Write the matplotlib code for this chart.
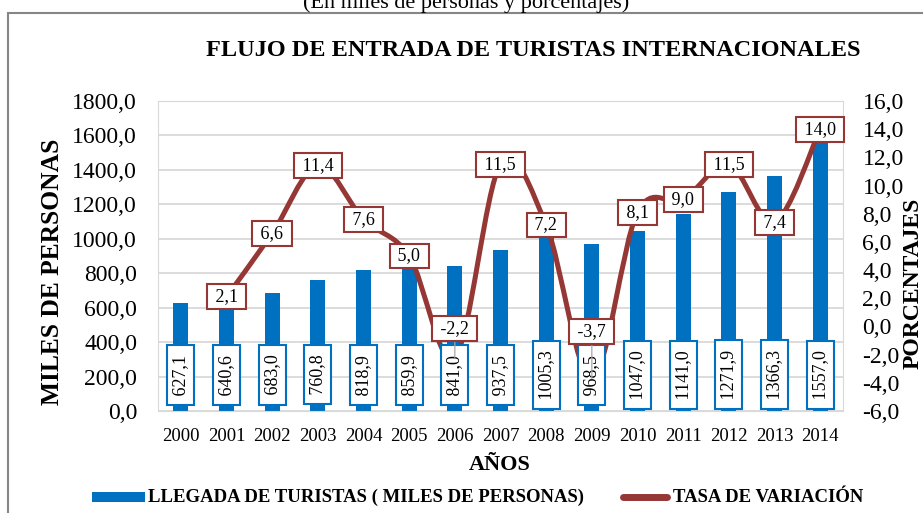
import matplotlib
matplotlib.use("Agg")
import matplotlib.pyplot as plt
from matplotlib.patches import Rectangle, PathPatch
from matplotlib.lines import Line2D
from matplotlib.path import Path

plt.rcParams['font.family'] = ['Liberation Serif', 'DejaVu Serif']

years = ['2000', '2001', '2002', '2003', '2004', '2005', '2006', '2007',
         '2008', '2009', '2010', '2011', '2012', '2013', '2014']
llegadas = [627.1, 640.6, 683.0, 760.8, 818.9, 859.9, 841.0, 937.5,
            1005.3, 968.5, 1047.0, 1141.0, 1271.9, 1366.3, 1557.0]
tasa = [None, 2.1, 6.6, 11.4, 7.6, 5.0, -2.2, 11.5, 7.2, -3.7,
        8.1, 9.0, 11.5, 7.4, 14.0]
left_ticks = [0, 200, 400, 600, 800, 1000, 1200, 1400, 1600, 1800]
right_ticks = [-6, -4, -2, 0, 2, 4, 6, 8, 10, 12, 14, 16]

BLUE = '#0070C0'
RED = '#953735'
W, H = 923, 513


def coma(v):
    return f"{v:.1f}".replace('.', ',')


def a_izq(v):
    # convierte un valor del eje derecho al eje izquierdo
    return (v + 6) / 22 * 1800


fig = plt.figure(figsize=(W / 100, H / 100), dpi=100)
ax = fig.add_axes([158 / W, 1 - 411 / H, (843 - 158) / W, (411 - 101) / H])
ax2 = ax.twinx()

x = list(range(len(years)))
ax.bar(x, llegadas, width=0.33, color=BLUE, zorder=2)
ax.set_xlim(-0.5, len(years) - 0.5)
ax.set_ylim(0, 1800)
ax.set_yticks(left_ticks)
ax.set_yticklabels([coma(t) for t in left_ticks], fontsize=17)
ax.set_xticks(x)
ax.set_xticklabels(years, fontsize=13.5)
ax.tick_params(axis='y', length=0, pad=15)
ax.tick_params(axis='x', length=0, pad=12)
ax.grid(axis='y', color='#d9d9d9', lw=1.3, zorder=0)
ax.set_axisbelow(True)
for s in ax.spines.values():
    s.set_color('#d9d9d9')
for s in ax2.spines.values():
    s.set_visible(False)

ax2.set_ylim(-6, 16)
ax2.set_yticks(right_ticks)
ax2.set_yticklabels([coma(t) for t in right_ticks], fontsize=17)
ax2.tick_params(axis='y', length=0, pad=14)
ax.set_zorder(2)
ax.patch.set_visible(False)
ax2.set_zorder(1)

# etiquetas de las barras
for xi, v in zip(x, llegadas):
    ax.text(xi, 210, ' ' + coma(v) + ' ', rotation=90, ha='center', va='center',
            fontsize=13, zorder=5,
            bbox=dict(boxstyle='square,pad=0.28', fc='white', ec=BLUE, lw=1.5))

# linea suavizada (bezier estilo excel)
pts = [(xi, a_izq(v)) for xi, v in zip(x, tasa) if v is not None]
verts = [pts[0]]
codes = [Path.MOVETO]
n = len(pts)
for i in range(n - 1):
    p0 = pts[i - 1] if i > 0 else pts[i]
    p1 = pts[i]
    p2 = pts[i + 1]
    p3 = pts[i + 2] if i + 2 < n else pts[i + 1]
    c1 = (p1[0] + (p2[0] - p0[0]) / 6, p1[1] + (p2[1] - p0[1]) / 6)
    c2 = (p2[0] - (p3[0] - p1[0]) / 6, p2[1] - (p3[1] - p1[1]) / 6)
    verts += [c1, c2, p2]
    codes += [Path.CURVE4] * 3
ax.add_patch(PathPatch(Path(verts, codes), fc='none', ec=RED, lw=3.6,
                       capstyle='round', joinstyle='round', zorder=3))

# etiquetas de la tasa
desplaz = {'2006': 29, '2009': 47}
for xi, yr, v in zip(x, years, tasa):
    if v is None:
        continue
    dy = desplaz.get(yr, 0)
    kw = {}
    if dy:
        kw['arrowprops'] = dict(arrowstyle='-', color='#a6a6a6', lw=0.9,
                                shrinkA=0, shrinkB=0)
    ax.annotate(' ' + coma(v) + ' ', xy=(xi, a_izq(v)), xytext=(0, dy),
                textcoords='offset pixels', ha='center', va='center', fontsize=13,
                zorder=6, annotation_clip=False,
                bbox=dict(boxstyle='square,pad=0.22', fc='white', ec=RED, lw=1.5), **kw)

fig.text(466 / W, 1 - 8 / H, '(En miles de personas y porcentajes)', fontsize=16,
         ha='center', va='baseline')
fig.text(533 / W, 1 - 50 / H, 'FLUJO DE ENTRADA DE TURISTAS INTERNACIONALES',
         fontsize=17.5, fontweight='bold', ha='center', va='center')
fig.text(53 / W, 1 - 272 / H, 'MILES DE PERSONAS', fontsize=18.4, fontweight='bold',
         rotation=90, ha='center', va='center')
fig.text(913 / W, 1 - 283 / H, 'PORCENTAJES', fontsize=17, fontweight='bold',
         rotation=90, ha='center', va='center')
fig.text(500 / W, 1 - 465 / H, 'AÑOS', fontsize=16, fontweight='bold',
         ha='center', va='center')

# leyenda
fig.add_artist(Rectangle((92 / W, 1 - 502 / H), 53 / W, 10 / H, fc=BLUE, ec='none'))
fig.text(148 / W, 1 - 497 / H, 'LLEGADA DE TURISTAS ( MILES DE PERSONAS)', fontsize=13.5,
         fontweight='bold', ha='left', va='center')
fig.add_artist(Line2D([623 / W, 667 / W], [1 - 497 / H, 1 - 497 / H], color=RED, lw=5,
                      solid_capstyle='round'))
fig.text(673 / W, 1 - 497 / H, 'TASA DE VARIACIÓN', fontsize=13.5, fontweight='bold',
         ha='left', va='center')

fig.add_artist(Rectangle((8 / W, -0.1), 1.0, 1.1 - 13 / H, fill=False, ec='#868686', lw=1.5))

fig.savefig('out.png', dpi=100)
